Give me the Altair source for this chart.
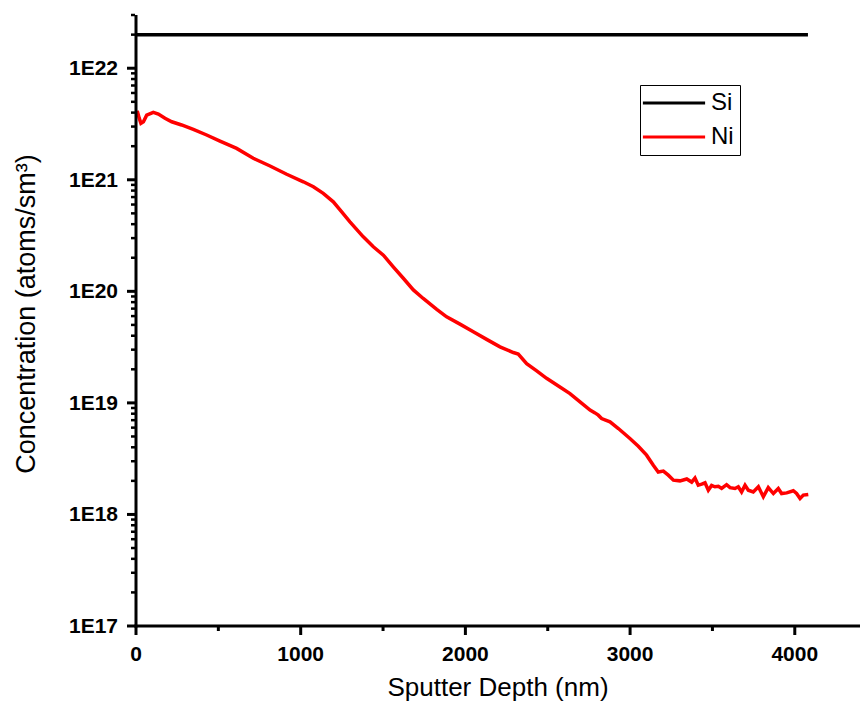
import altair as alt
import pandas as pd

# ---- data ----
si_depth = [0, 4080]
si_conc = [2.0e22, 2.0e22]

ni_depth = [
    0, 10, 20, 30, 45, 65, 105, 136, 176, 217, 277, 348, 429, 510, 611, 712, 814, 915,
    1016, 1077, 1137, 1198, 1249, 1299, 1380, 1441, 1502, 1562, 1623, 1684, 1744, 1826,
    1886, 1967, 2048, 2129, 2210, 2291, 2321, 2372, 2433, 2493, 2574, 2635, 2696, 2757,
    2787, 2807, 2827, 2878, 2929, 2999, 3050, 3100, 3141, 3171, 3202, 3232, 3263, 3303,
    3344, 3374, 3394, 3414, 3435, 3455, 3475, 3495, 3515, 3536, 3556, 3586, 3607, 3637,
    3657, 3677, 3698, 3718, 3748, 3779, 3809, 3839, 3870, 3900, 3920, 3951, 3991, 4011,
    4032, 4052, 4082,
]
ni_conc = [
    4.0e21, 4.02e21, 3.55e21, 3.21e21, 3.31e21, 3.80e21, 4.02e21, 3.88e21, 3.56e21, 3.31e21,
    3.10e21, 2.83e21, 2.52e21, 2.22e21, 1.91e21, 1.56e21, 1.33e21, 1.12e21,
    9.59e20, 8.65e20, 7.55e20, 6.35e20, 5.16e20, 4.20e20, 3.08e20, 2.51e20, 2.11e20, 1.66e20,
    1.31e20, 1.03e20, 8.63e19, 6.89e19, 5.90e19, 5.08e19, 4.34e19, 3.71e19, 3.18e19, 2.83e19,
    2.74e19, 2.25e19, 1.94e19, 1.66e19, 1.39e19, 1.21e19, 1.02e19, 8.61e18, 8.13e18, 7.76e18,
    7.24e18, 6.76e18, 5.89e18, 4.80e18, 4.09e18, 3.40e18, 2.76e18, 2.40e18, 2.45e18, 2.25e18,
    2.03e18, 2.00e18, 2.08e18, 1.95e18, 2.12e18, 1.83e18, 1.87e18, 1.92e18, 1.65e18, 1.82e18,
    1.77e18, 1.79e18, 1.71e18, 1.85e18, 1.74e18, 1.71e18, 1.77e18, 1.59e18, 1.83e18, 1.65e18,
    1.59e18, 1.77e18, 1.44e18, 1.74e18, 1.54e18, 1.71e18, 1.54e18, 1.56e18, 1.63e18, 1.54e18,
    1.39e18, 1.49e18, 1.51e18,
]

series_names = ["Si", "Ni"]
series_colors = ["#000000", "#ff0000"]

x_major = [0, 1000, 2000, 3000, 4000]
x_major_labels = ["0", "1000", "2000", "3000", "4000"]
x_minor = [500, 1500, 2500, 3500]
y_major = [1e17, 1e18, 1e19, 1e20, 1e21, 1e22]
y_major_labels = ["1E17", "1E18", "1E19", "1E20", "1E21", "1E22"]
y_minor = [m * 10.0 ** e for e in range(17, 22) for m in range(2, 10)] + [2e22, 3e22]

x_title = "Sputter Depth (nm)"
y_title = "Concentration (atoms/sm³)"

df = pd.concat([
    pd.DataFrame({"depth": si_depth, "conc": si_conc, "element": "Si"}),
    pd.DataFrame({"depth": ni_depth, "conc": ni_conc, "element": "Ni"}),
])
df["order"] = range(len(df))

FONT = "Liberation Sans"
W, H = 724, 611

x_scale = alt.Scale(domain=[0, 4396], nice=False, zero=False)
y_scale = alt.Scale(type="log", domain=[1e17, 3e22], nice=False)

lines = alt.Chart(df).mark_line(strokeWidth=3.5, clip=True).encode(
    x=alt.X("depth:Q", scale=x_scale, axis=None),
    y=alt.Y("conc:Q", scale=y_scale, axis=None),
    color=alt.Color(
        "element:N",
        scale=alt.Scale(domain=series_names, range=series_colors),
        legend=alt.Legend(
            title=None, orient="none", legendX=504, legendY=70,
            symbolType="M-3,0H3", symbolSize=430, symbolStrokeWidth=3,
            symbolOffset=16,
            labelFont=FONT, labelFontSize=24, labelColor="black", labelOffset=25,
            strokeColor="black", padding=6, rowPadding=10,
        ),
    ),
    detail="element:N",
    order="order:Q",
)

one = pd.DataFrame({"k": [0]})

# axis lines
y_domain = alt.Chart(one).mark_rule(color="black", strokeWidth=3, clip=False).encode(
    x=alt.value(0), y=alt.value(0), y2=alt.value(H + 1.5)
)
x_domain = alt.Chart(one).mark_rule(color="black", strokeWidth=3, clip=False).encode(
    x=alt.value(-1.5), x2=alt.value(W), y=alt.value(H)
)


# tick marks, placed by the same scales as the data
def y_ticks(values, length, width):
    return alt.Chart(pd.DataFrame({"v": values})).mark_rule(
        color="black", strokeWidth=width, clip=False
    ).encode(
        y=alt.Y("v:Q", scale=y_scale, axis=None),
        x=alt.value(-length), x2=alt.value(-1),
    )


def x_ticks(values, length, width):
    return alt.Chart(pd.DataFrame({"v": values})).mark_rule(
        color="black", strokeWidth=width, clip=False
    ).encode(
        x=alt.X("v:Q", scale=x_scale, axis=None),
        y=alt.value(H + 1), y2=alt.value(H + length),
    )


# tick labels
y_labels = alt.Chart(pd.DataFrame({"v": y_major, "t": y_major_labels})).mark_text(
    font=FONT, fontSize=21, fontWeight="bold", color="black",
    align="right", baseline="middle", dy=1, clip=False,
).encode(
    y=alt.Y("v:Q", scale=y_scale, axis=None),
    x=alt.value(-18),
    text="t:N",
)
x_labels = alt.Chart(pd.DataFrame({"v": x_major, "t": x_major_labels})).mark_text(
    font=FONT, fontSize=21, fontWeight="bold", color="black",
    align="center", baseline="middle", clip=False,
).encode(
    x=alt.X("v:Q", scale=x_scale, axis=None),
    y=alt.value(H + 29),
    text="t:N",
)

# axis titles
x_title_mark = alt.Chart(pd.DataFrame({"t": [x_title]})).mark_text(
    font=FONT, fontSize=26, color="black", align="center", baseline="alphabetic", clip=False,
).encode(x=alt.value(W / 2), y=alt.value(H + 70), text="t:N")

y_title_mark = alt.Chart(pd.DataFrame({"t": [y_title]})).mark_text(
    font=FONT, fontSize=27, color="black", align="center", baseline="middle",
    angle=270, clip=False,
).encode(x=alt.value(-109), y=alt.value(299), text="t:N")

chart = alt.layer(
    lines,
    y_domain, x_domain,
    y_ticks(y_major, 9, 3),
    y_ticks(y_minor, 5, 2.5),
    x_ticks(x_major, 9, 3),
    x_ticks(x_minor, 5, 3),
    y_labels, x_labels,
    x_title_mark, y_title_mark,
).properties(
    width=W, height=H,
    autosize=alt.AutoSizeParams(type="none"),
    padding={"left": 128, "top": 7, "right": 0, "bottom": 75},
).configure(background="white").configure_view(stroke=None)

chart.save("out.html", embed_options={"renderer": "svg", "actions": False})
